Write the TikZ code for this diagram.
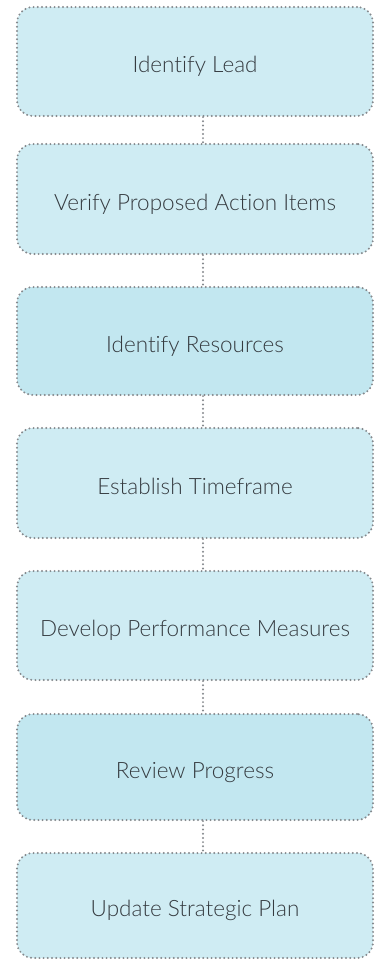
\documentclass[tikz,border=0pt]{standalone}
\usepackage{fontspec}
\setmainfont{Lato Light}[Ligatures=NoCommon]
\definecolor{boxfill}{HTML}{CFECF3}
\definecolor{boxfilldark}{HTML}{C2E7F0}
\definecolor{dotgrey}{HTML}{85898D}
\definecolor{txt}{HTML}{353B40}
\begin{document}
\begin{tikzpicture}[x=1pt,y=1pt,
  dotline/.style={draw=dotgrey, line width=2.2pt, line cap=round, dash pattern=on 0pt off 4.2pt},
  stepbox/.style={rectangle, rounded corners=16pt, dotline, fill=boxfill, minimum width=356pt, text=txt, font=\fontsize{22.5}{27}\selectfont, inner sep=0pt, text height=23pt, text depth=1pt},
  darkbox/.style={stepbox, fill=boxfilldark},
  link/.style={dotline}]
\useasboundingbox (0,0) rectangle (382,-959);
\node[stepbox, minimum height=109pt] (s1) at (195,-61.5) {Identify Lead};
\node[stepbox, minimum height=110pt] (s2) at (195,-199) {Verify Proposed Action Items};
\node[darkbox, minimum height=108pt] (s3) at (195,-341) {Identify Resources};
\node[stepbox, minimum height=110pt] (s4) at (195,-483) {Establish Timeframe};
\node[stepbox, minimum height=109pt] (s5) at (195,-625.5) {Develop Performance Measures};
\node[darkbox, minimum height=106pt] (s6) at (195,-767) {Review Progress};
\node[stepbox, minimum height=105pt] (s7) at (195,-905.5) {Update Strategic Plan};
\foreach \a/\b in {s1/s2,s2/s3,s3/s4,s4/s5,s5/s6,s6/s7}
  \draw[link] ([xshift=8pt]\a.south) -- ([xshift=8pt]\b.north);
\end{tikzpicture}
\end{document}
